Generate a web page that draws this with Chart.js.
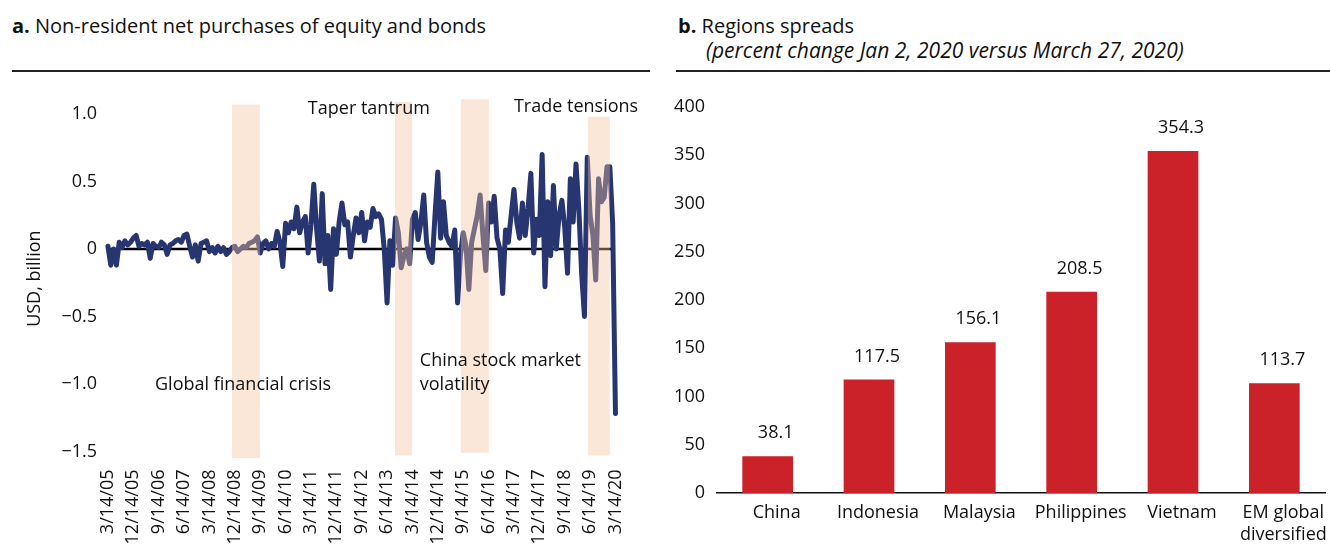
<!DOCTYPE html>
<html>
<head>
<meta charset="utf-8">
<script src="https://cdn.jsdelivr.net/npm/chart.js@4.4.0/dist/chart.umd.min.js"></script>
<style>
  body { margin: 0; width: 1330px; height: 557px; background: #fff; position: relative; overflow: hidden;
         font-family: 'Open Sans', sans-serif; color: #111; }
  .title { position: absolute; font-size: 20px; white-space: nowrap; }
  .sub { position: absolute; font-size: 21px; font-style: italic; white-space: nowrap; }
  .rule { position: absolute; height: 1.5px; background: #222; }
  canvas { position: absolute; }
</style>
</head>
<body>
<div class="title" style="left:12px; top:12px;"><b>a.</b> Non-resident net purchases of equity and bonds</div>
<div class="rule" style="left:12px; top:70px; width:638px;"></div>
<div class="title" style="left:678px; top:12px;"><b>b.</b> Regions spreads</div>
<div class="sub" style="left:706px; top:36px;">(percent change Jan 2, 2020 versus March 27, 2020)</div>
<div class="rule" style="left:676px; top:70px; width:654px;"></div>

<canvas id="flowChart" width="660" height="477" style="left:0; top:80px;"></canvas>
<canvas id="spreadChart" width="670" height="477" style="left:660px; top:80px;"></canvas>

<script>
// panel a: monthly net purchases, USD billion, from 3/2005 to 3/2020
const flows = [
  0.02, -0.12, 0.0, -0.12, 0.05, 0.01, 0.06, 0.03, 0.05, 0.08,
  0.1, 0.02, 0.04, 0.03, 0.05, -0.07, 0.04, 0.02, 0.01, 0.05,
  0.03, -0.04, 0.03, 0.04, 0.06, 0.07, 0.05, 0.1, 0.11, 0.02,
  -0.06, 0.03, -0.09, 0.04, 0.05, 0.06, -0.02, 0.01, -0.03, 0.02,
  -0.02, 0.01, -0.04, -0.02, 0.01, 0.02, -0.02, 0.0, 0.02, 0.01,
  0.04, 0.05, 0.06, 0.09, -0.03, 0.04, 0.06, 0.0, 0.04, 0.02,
  0.13, 0.05, -0.13, 0.19, 0.12, 0.2, 0.15, 0.31, 0.12, 0.2,
  0.24, -0.03, 0.18, 0.48, 0.15, -0.09, 0.41, -0.11, 0.1, -0.3,
  0.15, -0.04, 0.2, 0.34, 0.18, 0.2, -0.06, 0.1, 0.23, 0.12,
  0.27, 0.06, 0.2, 0.16, 0.3, 0.24, 0.26, 0.22, 0.0, -0.4,
  0.06, -0.12, 0.23, 0.12, -0.14, -0.05, 0.0, -0.11, 0.22, 0.27,
  0.07, 0.2, 0.4, 0.05, -0.06, -0.1, 0.25, 0.57, 0.08, 0.35,
  0.1, 0.05, 0.02, 0.14, -0.4, -0.05, 0.12, 0.02, -0.3, 0.05,
  0.15, 0.25, 0.4, 0.1, -0.16, 0.34, 0.2, 0.39, 0.08, 0.0,
  -0.33, 0.14, 0.05, 0.25, 0.44, 0.2, 0.08, 0.34, 0.1, 0.3,
  0.56, -0.03, 0.22, 0.1, 0.7, -0.28, 0.35, -0.05, 0.47, 0.0,
  0.25, 0.36, 0.16, -0.18, 0.52, 0.2, 0.63, 0.3, -0.18, -0.5,
  0.68, 0.25, 0.1, -0.23, 0.52, 0.35, 0.38, 0.61, 0.61, 0.19,
  -1.22
];
const dateTicks = ['3/14/05', '12/14/05', '9/14/06', '6/14/07', '3/14/08', '12/14/08', '9/14/09',
  '6/14/10', '3/14/11', '12/14/11', '9/14/12', '6/14/13', '3/14/14', '12/14/14', '9/14/15',
  '6/14/16', '3/14/17', '12/14/17', '9/14/18', '6/14/19', '3/14/20'];
const flowTicks = [1.0, 0.5, 0, -0.5, -1.0, -1.5];

// stress episodes, in months since 3/2005
const episodeStart = [44, 101.8, 125.2, 170.2];
const episodeEnd = [53.9, 107.8, 135.1, 178];
const episodeTop = [1.07, 1.09, 1.11, 0.98];
const episodeBottom = [-1.55, -1.53, -1.51, -1.53];

// panel b
const regions = ['China', 'Indonesia', 'Malaysia', 'Philippines', 'Vietnam', ['EM global', 'diversified']];
const spreadChange = [38.1, 117.5, 156.1, 208.5, 354.3, 113.7];

const FONT = "'Open Sans', sans-serif";
Chart.defaults.font.family = FONT;
Chart.defaults.font.size = 18;
Chart.defaults.color = '#111';

const notes = [
  { text: 'Taper tantrum', x: 70.9, y: 1.04 },
  { text: 'Trade tensions', x: 144, y: 1.05 },
  { text: 'Global financial crisis', x: 16.7, y: -1.01 },
  { text: 'China stock market', x: 110.6, y: -0.83 },
  { text: 'volatility', x: 110.6, y: -1.01 }
];

const episodePlugin = {
  id: 'episodes',
  afterDatasetsDraw(chart) {
    const { ctx, scales: { x, y } } = chart;
    ctx.save();
    ctx.fillStyle = 'rgba(245,195,157,0.4)';
    episodeStart.forEach((s, i) => {
      const x0 = x.getPixelForValue(s), x1 = x.getPixelForValue(episodeEnd[i]);
      const y0 = y.getPixelForValue(episodeTop[i]), y1 = y.getPixelForValue(episodeBottom[i]);
      ctx.fillRect(x0, y0, x1 - x0, y1 - y0);
    });
    ctx.fillStyle = '#111';
    ctx.font = '18px ' + FONT;
    ctx.textBaseline = 'middle';
    notes.forEach(n => ctx.fillText(n.text, x.getPixelForValue(n.x), y.getPixelForValue(n.y)));
    ctx.restore();
  }
};

new Chart(document.getElementById('flowChart'), {
  type: 'line',
  data: {
    datasets: [{
      data: flows.map((v, i) => ({ x: i, y: v })),
      borderColor: '#273571',
      borderWidth: 5,
      borderJoinStyle: 'round',
      borderCapStyle: 'round',
      pointRadius: 0,
      tension: 0,
      order: 1
    }, {
      data: [{ x: 0, y: 0 }, { x: 178.5, y: 0 }],
      borderColor: '#000',
      borderWidth: 2.5,
      pointRadius: 0,
      order: 2
    }]
  },
  options: {
    responsive: false,
    animation: false,
    layout: { padding: { top: 16, right: 42, left: 0, bottom: 0 } },
    plugins: { legend: { display: false }, tooltip: { enabled: false } },
    scales: {
      x: {
        type: 'linear', min: -1.4, max: 180.9,
        grid: { display: false, drawTicks: false }, border: { display: false },
        afterBuildTicks: s => { s.ticks = dateTicks.map((t, i) => ({ value: i * 9 })); },
        afterFit: s => { s.height = 97.5; },
        ticks: { autoSkip: false, minRotation: 90, maxRotation: 90, padding: 10,
                 callback: (v, i) => dateTicks[i] }
      },
      y: {
        min: -1.56, max: 1.12,
        grid: { display: false, drawTicks: false }, border: { display: false },
        afterBuildTicks: s => { s.ticks = flowTicks.map(v => ({ value: v })); },
        afterFit: s => { s.width = 104; },
        ticks: { padding: 7, callback: v => v === 0 ? '0' : v.toFixed(1).replace('-', '\u2212') },
        title: { display: true, text: 'USD, billion', padding: { top: 24, bottom: 0 }, font: { size: 18 } }
      }
    }
  },
  plugins: [episodePlugin]
});

const barLabelPlugin = {
  id: 'barLabels',
  afterDatasetsDraw(chart) {
    const { ctx } = chart;
    ctx.save();
    ctx.fillStyle = '#111';
    ctx.font = '18px ' + FONT;
    ctx.textAlign = 'center';
    ctx.textBaseline = 'middle';
    chart.getDatasetMeta(0).data.forEach((bar, i) => {
      ctx.fillText(spreadChange[i].toFixed(1), bar.x + 8, bar.y - 23);
    });
    ctx.restore();
  }
};

new Chart(document.getElementById('spreadChart'), {
  type: 'bar',
  data: {
    labels: regions,
    datasets: [{ data: spreadChange, backgroundColor: '#cb2229', barPercentage: 0.5, categoryPercentage: 1 }]
  },
  options: {
    responsive: false,
    animation: false,
    layout: { padding: { top: 27, right: 5, left: 0, bottom: 0 } },
    plugins: { legend: { display: false }, tooltip: { enabled: false } },
    scales: {
      x: {
        grid: { display: false, drawTicks: false },
        border: { display: true, color: '#111', width: 1.5 },
        afterFit: s => { s.height = 64; },
        ticks: { padding: 9, labelOffset: 9, maxRotation: 0, autoSkip: false }
      },
      y: {
        min: 0, max: 400,
        grid: { display: false, drawTicks: false }, border: { display: false },
        afterFit: s => { s.width = 57; },
        ticks: { stepSize: 50, padding: 12 }
      }
    }
  },
  plugins: [barLabelPlugin]
});
</script>
</body>
</html>
